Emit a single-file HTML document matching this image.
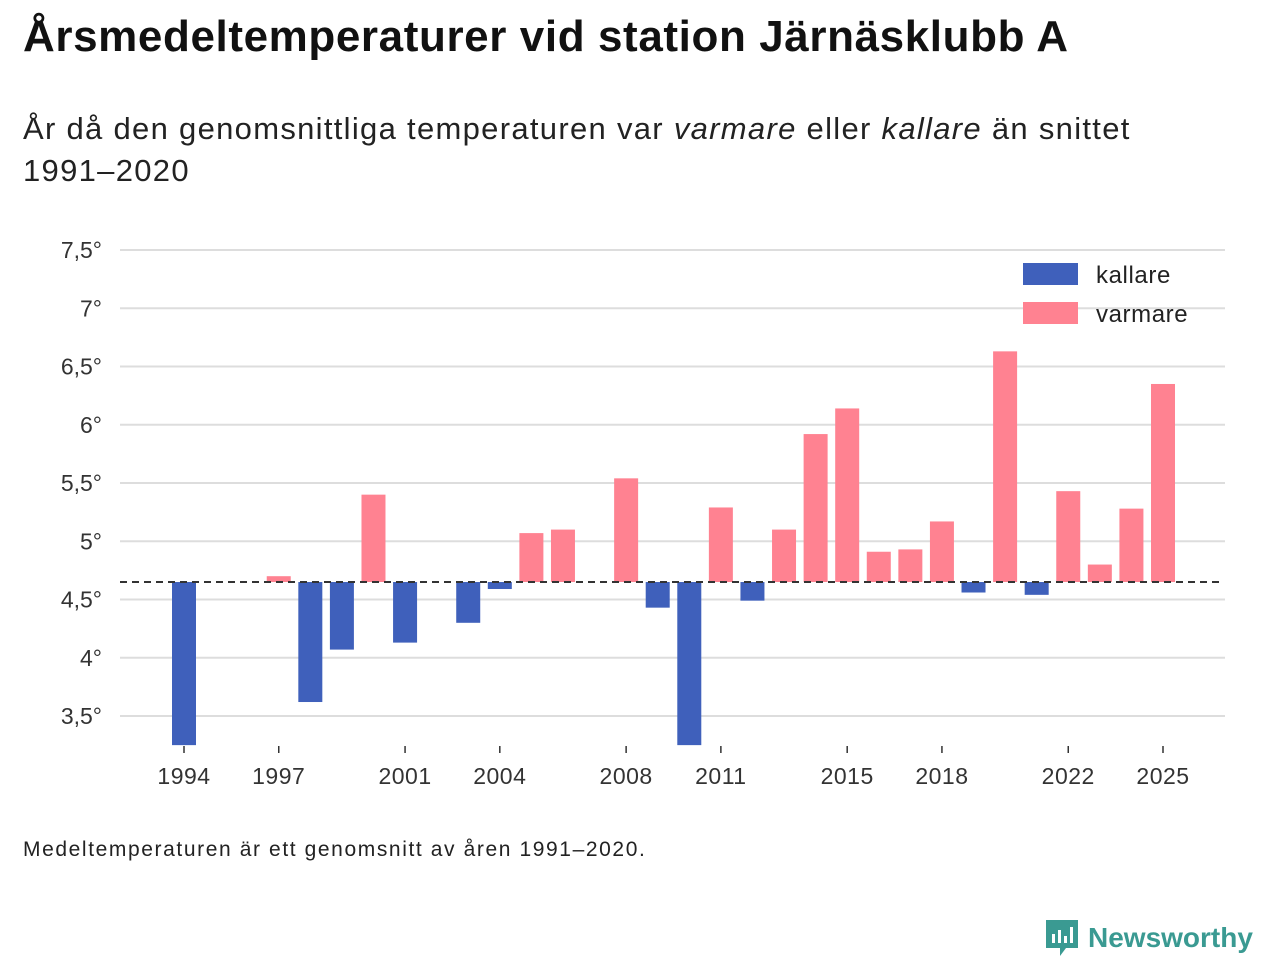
<!DOCTYPE html>
<html><head><meta charset="utf-8">
<style>
body{margin:0;width:1280px;height:960px;background:#fff;font-family:"Liberation Sans","DejaVu Sans",sans-serif;color:#111;position:relative;overflow:hidden}
h1{position:absolute;left:23px;top:12px;margin:0;font-size:44px;font-weight:bold;letter-spacing:0.6px;white-space:nowrap}
.sub{position:absolute;left:23px;top:108px;font-size:31px;line-height:42px;color:#222;width:1250px;letter-spacing:1.3px}
.note{position:absolute;left:23px;top:838px;font-size:21px;color:#222;letter-spacing:1.6px}
.logo{position:absolute;left:1044px;top:918px;display:flex;align-items:center;gap:8px;color:#3a9a92;font-weight:bold;font-size:28px}
</style></head><body>
<h1>Årsmedeltemperaturer vid station Järnäsklubb A</h1>
<div class="sub">År då den genomsnittliga temperaturen var <i>varmare</i> eller <i>kallare</i> än snittet<br>1991–2020</div>
<svg id="chart" width="1280" height="960" style="position:absolute;left:0;top:0"></svg>
<div class="note">Medeltemperaturen är ett genomsnitt av åren 1991–2020.</div>
<div class="logo"><svg width="36" height="40" viewBox="0 0 36 40"><path d="M2 2h32v28H22l-6 8v-8H2z" fill="#3a9a92"/><rect x="8" y="16" width="3" height="9" fill="#fff"/><rect x="14" y="12" width="3" height="13" fill="#fff"/><rect x="20" y="18" width="3" height="7" fill="#fff"/><rect x="26" y="9" width="3" height="16" fill="#fff"/></svg><span>Newsworthy</span></div>
<script>
const years=[1994,1997,1998,1999,2000,2001,2003,2004,2005,2006,2008,2009,2010,2011,2012,2013,2014,2015,2016,2017,2018,2019,2020,2021,2022,2023,2024,2025];
const temps=[3.25,4.70,3.62,4.07,5.40,4.13,4.30,4.59,5.07,5.10,5.54,4.43,3.25,5.29,4.49,5.10,5.92,6.14,4.91,4.93,5.17,4.56,6.63,4.54,5.43,4.80,5.28,6.35];
const mean=4.65;
const yTicks=[3.5,4,4.5,5,5.5,6,6.5,7,7.5];
const xTicks=[1994,1997,2001,2004,2008,2011,2015,2018,2022,2025];
const svg=document.getElementById('chart');const NS='http://www.w3.org/2000/svg';
const X=yr=>184+(yr-1994)*(1163-184)/31;
const Y=v=>716-(v-3.5)*116.5;
const yMin=3.25;
function mk(t,a){const e=document.createElementNS(NS,t);for(const k in a)e.setAttribute(k,a[k]);svg.appendChild(e);return e;}
yTicks.forEach(v=>{
 const l=mk('line',{x1:120,x2:1225,y1:Y(v),y2:Y(v),stroke:'#ddd','stroke-width':2});
 
 
 const t=mk('text',{x:102,y:Y(v)+8,'text-anchor':'end','font-size':23,fill:'#333'});
 t.textContent=(String(v).replace('.',','))+'°';
 
 
});
xTicks.forEach(yr=>{
 const l=mk('line',{x1:X(yr),x2:X(yr),y1:746,y2:753,stroke:'#333','stroke-width':1.5});
 
 
 const t=mk('text',{x:X(yr),y:784,'text-anchor':'middle','font-size':23,fill:'#333','letter-spacing':0.5});
 t.textContent=yr;
 
 
});
years.forEach((yr,i)=>{
 const v=Math.max(temps[i],yMin);const warm=temps[i]>=mean;
 const y1=Y(Math.max(v,mean)),y2=Y(Math.min(v,mean));
 const r=mk('rect',{x:X(yr)-12,y:y1,width:24,height:Math.max(y2-y1,1),fill:warm?'#ff8291':'#3f60bb'});
 
 
});
const ml=mk('line',{x1:120,x2:1222,y1:Y(mean),y2:Y(mean),stroke:'#333','stroke-width':2,'stroke-dasharray':'7,5'});


[['kallare','#3f60bb',274],['varmare','#ff8291',313]].forEach(([n,c,y])=>{
 const r=mk('rect',{x:1023,y:y-11,width:55,height:22,fill:c});
 
 
 const t=mk('text',{x:1096,y:y+9,'font-size':24,fill:'#222','letter-spacing':0.6});t.textContent=n;
 
 
});
</script>
</body></html>
